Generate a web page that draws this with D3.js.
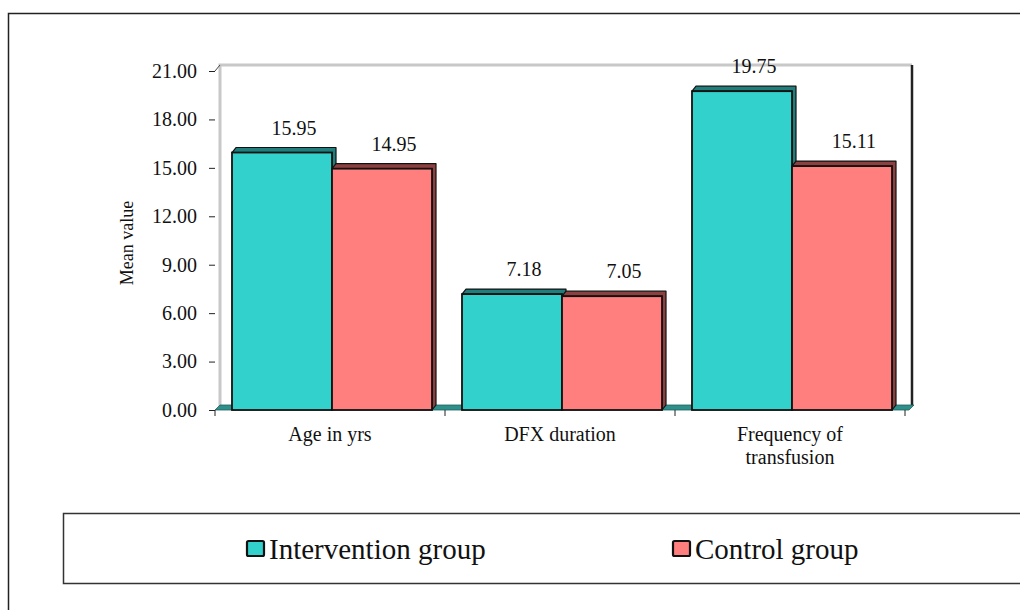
<!DOCTYPE html>
<html>
<head>
<meta charset="utf-8">
<script src="https://cdn.jsdelivr.net/npm/d3@7"></script>
<style>
  html, body { margin: 0; padding: 0; background: #fff; }
  svg { display: block; }
  svg text { font-family: "Liberation Serif", "Times New Roman", "DejaVu Serif", serif; }
</style>
</head>
<body>
<svg id="chart" width="1020" height="610"></svg>
<script>
// Chart data
const categories = ["Age in yrs", "DFX duration", "Frequency of transfusion"];
const categoryLines = [["Age in yrs"], ["DFX duration"], ["Frequency of", "transfusion"]];
const groups = ["Intervention group", "Control group"];
const interventionValues = [15.95, 7.18, 19.75];
const controlValues = [14.95, 7.05, 15.11];
const yTicks = [0, 3, 6, 9, 12, 15, 18, 21];

const FONT = "'Liberation Serif', 'Times New Roman', 'DejaVu Serif', serif";
const colors = { "Intervention group": "#33d1cc", "Control group": "#ff7f7f" };
const darkColors = { "Intervention group": "#1f7f7c", "Control group": "#8c4040" };

const svg = d3.select("#chart").attr("font-family", FONT);

// Outer frame (open to the right and bottom)
svg.append("path")
  .attr("d", "M8.5,1020 L8.5,13.5 L1020,13.5")
  .attr("fill", "none").attr("stroke", "#222").attr("stroke-width", 1.5);

// Scales
const y = d3.scaleLinear().domain([0, 21]).range([410, 71]);
const x0 = d3.scaleBand().domain(categories).range([215, 905]).padding(0);
const x1 = d3.scaleBand().domain(groups).range([17, 217]).padding(0);
const depth = { dx: 4, dy: -5 };

// Back and side walls
const g = svg.append("g");
g.append("path")
  .attr("d", `M220,${y(0) - 4} L220,65 L912,65`)
  .attr("fill", "none").attr("stroke", "#c8c8c8").attr("stroke-width", 3);
g.append("line")
  .attr("x1", 912).attr("x2", 912).attr("y1", 65).attr("y2", y(0) - 4)
  .attr("stroke", "#222").attr("stroke-width", 2.5);
g.append("line")
  .attr("x1", 215).attr("x2", 220).attr("y1", y(21)).attr("y2", 65)
  .attr("stroke", "#444").attr("stroke-width", 1);

// Floor
g.append("path")
  .attr("d", `M215,${y(0)} L909,${y(0)} L914,${y(0) - 5} L220,${y(0) - 5} Z`)
  .attr("fill", "#2e8f8b").attr("stroke", "#1d5f5c").attr("stroke-width", 0.8);

// Y axis (ticks and labels, no spine)
const yAxis = d3.axisLeft(y).tickValues(yTicks).tickFormat(d3.format(".2f")).tickSize(6).tickPadding(12);
const yAxisG = svg.append("g").attr("transform", "translate(215,0)").call(yAxis)
  .attr("font-family", FONT).attr("font-size", 20);
yAxisG.select(".domain").remove();
yAxisG.selectAll(".tick line").attr("stroke", "#222");
yAxisG.selectAll(".tick text")
  .attr("font-family", FONT).attr("font-size", 20).attr("fill", "#111");

// X axis category boundary ticks
const boundaries = categories.map(c => x0(c)).concat([x0.range()[1]]);
svg.append("g").selectAll("line").data(boundaries).join("line")
  .attr("x1", d => d).attr("x2", d => d)
  .attr("y1", y(0)).attr("y2", y(0) + 6)
  .attr("stroke", "#222").attr("stroke-width", 1);

// Bars
const rows = categories.map((c, i) => ({
  category: c,
  values: [
    { group: groups[0], value: interventionValues[i] },
    { group: groups[1], value: controlValues[i] }
  ]
}));

const cat = svg.append("g").selectAll("g").data(rows).join("g")
  .attr("transform", d => `translate(${x0(d.category)},0)`);

const bar = cat.selectAll("g").data(d => d.values).join("g");

// Top and side faces
bar.append("path")
  .attr("d", d => {
    const xl = x1(d.group), xr = xl + x1.bandwidth();
    const yt = y(d.value), yb = y(0);
    return `M${xl},${yt} L${xl + depth.dx},${yt + depth.dy} L${xr + depth.dx},${yt + depth.dy} ` +
           `L${xr + depth.dx},${yb + depth.dy} L${xr},${yb} L${xr},${yt} Z`;
  })
  .attr("fill", d => darkColors[d.group])
  .attr("stroke", "#111").attr("stroke-width", 1.2).attr("stroke-linejoin", "round");

// Front faces
bar.append("rect")
  .attr("x", d => x1(d.group))
  .attr("y", d => y(d.value))
  .attr("width", x1.bandwidth())
  .attr("height", d => y(0) - y(d.value))
  .attr("fill", d => colors[d.group])
  .attr("stroke", "#111").attr("stroke-width", 1.8);

// Value labels
bar.append("text")
  .attr("x", d => x1(d.group) + x1.bandwidth() / 2 + 12)
  .attr("y", d => y(d.value) - 18)
  .attr("text-anchor", "middle")
  .attr("font-family", FONT).attr("font-size", 20).attr("fill", "#111")
  .text(d => d.value.toFixed(2));

// Category labels
const catLabels = svg.append("g").selectAll("text").data(categories).join("text")
  .attr("x", d => x0(d) + x0.bandwidth() / 2)
  .attr("y", 441)
  .attr("text-anchor", "middle")
  .attr("font-family", FONT).attr("font-size", 20).attr("fill", "#111");
catLabels.selectAll("tspan").data((d, i) => categoryLines[i]).join("tspan")
  .attr("x", function () { return d3.select(this.parentNode).attr("x"); })
  .attr("dy", (d, i) => i === 0 ? 0 : 23)
  .text(d => d);

// Y axis title
svg.append("text")
  .attr("transform", "translate(133,243) rotate(-90)")
  .attr("text-anchor", "middle")
  .attr("font-family", FONT).attr("font-size", 18).attr("fill", "#111")
  .text("Mean value");

// Legend box
svg.append("path")
  .attr("d", "M1020,513.5 L63.5,513.5 L63.5,583.5 L1020,583.5")
  .attr("fill", "none").attr("stroke", "#333").attr("stroke-width", 1.5);

const legendX = [247, 673];
const legend = svg.append("g").selectAll("g").data(groups).join("g")
  .attr("transform", (d, i) => `translate(${legendX[i]},0)`);
legend.append("rect")
  .attr("x", 0).attr("y", 541).attr("width", 17).attr("height", 15).attr("rx", 1.5)
  .attr("fill", d => colors[d]).attr("stroke", "#111").attr("stroke-width", 2.2);
legend.append("text")
  .attr("x", 22).attr("y", 559)
  .attr("font-family", FONT).attr("font-size", 29).attr("fill", "#111")
  .text(d => d);
</script>
</body>
</html>
